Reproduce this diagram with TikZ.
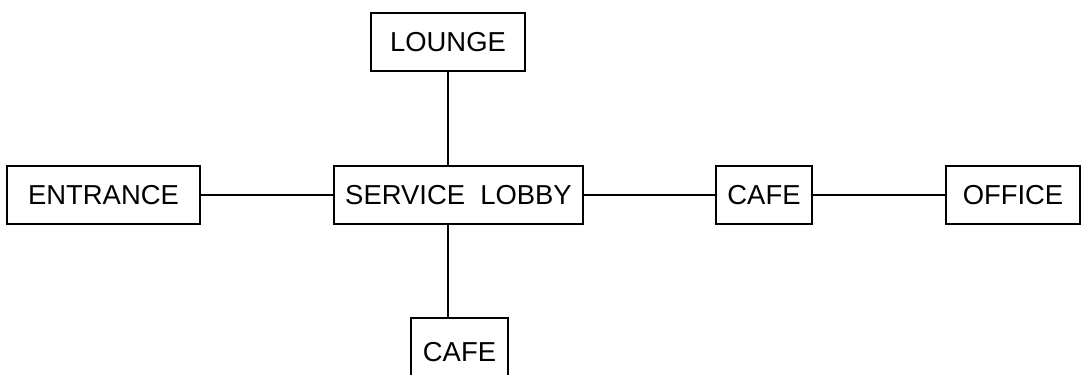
\documentclass[tikz,border=0pt]{standalone}
\usepackage{fontspec}
\setmainfont{Liberation Sans}
\usepackage{tikz}

\tikzset{
	room/.style={draw, line width=2pt, inner sep=0pt, minimum height=1.74cm,
		text depth=-0.1cm, font=\fontsize{23.4}{28}\selectfont},
	link/.style={line width=1.8pt}
}

\begin{document}
\begin{tikzpicture}[x=0.03cm, y=-0.03cm]
		% Frame of the page
		\useasboundingbox (0,0) rectangle (1082,375);
		\clip (0,0) rectangle (1082,375);

		% Rooms
		\node[room, minimum width=4.62cm] (lounge) at (448,42) {LOUNGE};
		\node[room, minimum width=5.79cm] (entrance) at (103.5,195) {ENTRANCE};
		\node[room, minimum width=7.47cm] (lobby) at (458.5,195) {SERVICE~~LOBBY};
		\node[room, minimum width=2.88cm] (cafe) at (764,195) {CAFE};
		\node[room, minimum width=4.02cm] (office) at (1013,195) {OFFICE};
		\node[room, minimum width=2.91cm, minimum height=2.04cm] (cafeb) at (459.5,352) {CAFE};

		% Links between the rooms
		\draw[link] (lounge) -- (lounge |- lobby.north);
		\draw[link] (lounge |- lobby.south) -- (lounge |- cafeb.north);
		\draw[link] (entrance) -- (lobby);
		\draw[link] (lobby) -- (cafe);
		\draw[link] (cafe) -- (office);
	\end{tikzpicture}
\end{document}
